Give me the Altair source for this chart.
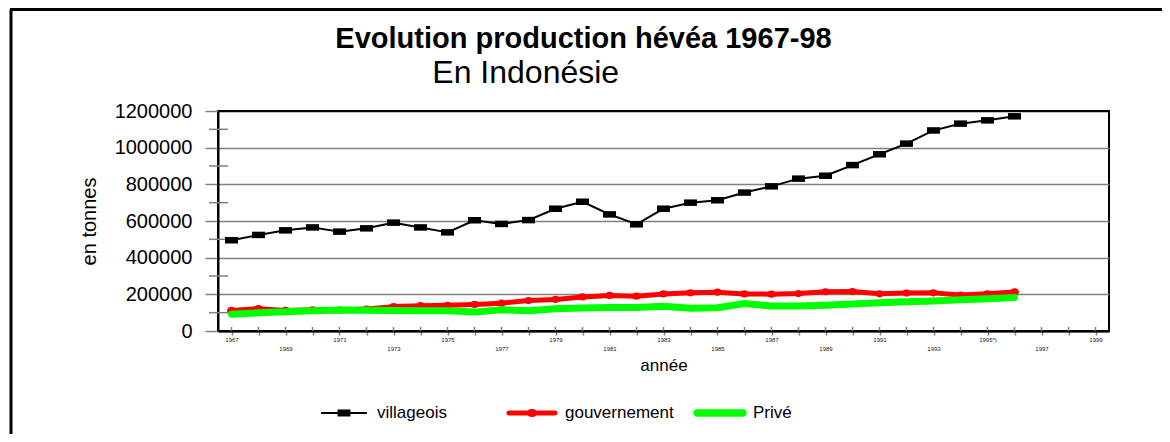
import altair as alt
import pandas as pd

# ---------------- data ----------------
years = list(range(1967, 1997))
villageois = [495000, 524000, 549000, 565000, 542000, 560000, 591000, 565000, 538000, 604000,
              584000, 605000, 667000, 705000, 636000, 582000, 667000, 700000, 713000, 755000,
              789000, 831000, 847000, 905000, 964000, 1022000, 1094000, 1131000, 1149000, 1171000]
gouvernement = [112000, 122000, 112000, 116000, 114000, 120000, 133000, 138000, 140000, 145000,
                152000, 166000, 172000, 186000, 194000, 190000, 202000, 208000, 212000, 202000,
                201000, 204000, 214000, 215000, 203000, 207000, 208000, 196000, 203000, 213000]
prive = [92000, 99000, 105000, 110000, 115000, 113000, 112000, 110000, 110000, 103000,
         116000, 110000, 121000, 126000, 128000, 128000, 135000, 124000, 127000, 150000,
         136000, 136000, 141000, 147000, 154000, 160000, 164000, 171000, 176000, 183000]

series_names = ["villageois", "gouvernement", "Privé"]
series_colors = ["#000000", "#ff0000", "#00ff00"]
year_ticks = list(range(1967, 2000))
y_major = [0, 200000, 400000, 600000, 800000, 1000000, 1200000]
y_minor = [100000, 300000, 500000, 700000, 900000, 1100000]

title_text = "Evolution production hévéa 1967-98"
subtitle_text = "En Indonésie"
x_title = "année"
y_title = "en tonnes"

# ---------------- styles ----------------
FONT = "Liberation Sans, Arial, sans-serif"
GRAY = "#808080"
line_widths = [2, 5, 7]

legend_paths = [
    "M-1,-0.045H1V0.045H-1Z M-0.28,-0.15H0.28V0.15H-0.28Z",
    "M-1,-0.11H1A0.11,0.11 0 0 1 1,0.11H-1A0.11,0.11 0 0 1 -1,-0.11Z "
    "M0.24,0A0.24,0.174 0 1 1 -0.24,0A0.24,0.174 0 1 1 0.24,0Z",
    "M-1,-0.16H1A0.16,0.16 0 0 1 1,0.16H-1A0.16,0.16 0 0 1 -1,-0.16Z",
]


def by_series(values):
    expr = "'" + values[-1] + "'"
    for n, v in reversed(list(zip(series_names[:-1], values[:-1]))):
        expr = "datum.value === '" + n + "' ? '" + v + "' : (" + expr + ")"
    return expr


rows = []
for name, vals in zip(series_names, [villageois, gouvernement, prive]):
    for yr, v in zip(years, vals):
        rows.append({"year": yr, "value": v, "series": name})
df = pd.DataFrame(rows)

label_expr = ("datum.value % 2 == 0 ? '' : (datum.value % 4 == 3 ? "
              "(datum.value == 1995 ? '1995*)' : '' + datum.value) : ['', '' + datum.value])")

x_enc = alt.X(
    "year:Q",
    scale=alt.Scale(domain=[1966.5, 1999.5], nice=False, zero=False),
    axis=alt.Axis(values=year_ticks, title=x_title, labelExpr=label_expr,
                  labelFontSize=6, labelFont=FONT, labelColor="#222222", labelPadding=1,
                  labelLineHeight=9, labelOverlap=False, labelFlush=False, labelBound=False,
                  tickColor=GRAY, tickSize=4, tickWidth=1.5,
                  domainColor="black", domainWidth=2, grid=False,
                  titleFont=FONT, titleFontSize=17, titleFontWeight="normal",
                  titleColor="black", titleY=34, titleBaseline="middle"),
)

y_enc = alt.Y(
    "value:Q",
    scale=alt.Scale(domain=[0, 1200000], nice=False, zero=True),
    axis=alt.Axis(values=y_major, format="d", title=y_title,
                  labelFont=FONT, labelFontSize=20, labelColor="black", labelPadding=13,
                  tickSize=13, tickColor=GRAY, tickWidth=1.5,
                  domainColor="black", domainWidth=2,
                  grid=True, gridWidth=1.5,
                  gridColor={"condition": {"test": "datum.value >= 1200000 || datum.value <= 0",
                                           "value": "black"}, "value": GRAY},
                  titleFont=FONT, titleFontSize=20, titleFontWeight="normal", titleColor="black",
                  titleAngle=270, titleX=-129, titleY=110, titleAlign="center",
                  titleBaseline="middle"),
)

color_scale = alt.Scale(domain=series_names, range=series_colors)
legend = alt.Legend(
    title=None, orient="none", legendX=103, legendY=279, direction="horizontal",
    columns=3, gridAlign="all", columnPadding=19,
    symbolSize=2116, symbolType=alt.ExprRef(expr=by_series(legend_paths)),
    symbolFillColor=alt.ExprRef(expr=by_series(series_colors)),
    symbolStrokeWidth=0, symbolOpacity=1,
    labelFont=FONT, labelFontSize=17, labelColor="black", labelOffset=10, labelLimit=300,
)

one = pd.DataFrame({"k": [0]})
frame_top = alt.Chart(one).mark_rule(color="black", strokeWidth=3).encode(
    x=alt.value(-208), x2=alt.value(944), y=alt.value(-101.5))
frame_left = alt.Chart(one).mark_rule(color="black", strokeWidth=3).encode(
    x=alt.value(-207), y=alt.value(-101.5), y2=alt.value(323))

minor = alt.Chart(pd.DataFrame({"value": y_minor})).mark_rule(color=GRAY, strokeWidth=1.5).encode(
    y=y_enc, x=alt.value(-9), x2=alt.value(10))
inner_x = alt.Chart(pd.DataFrame({"year": year_ticks})).mark_rule(color=GRAY, strokeWidth=1.5).encode(
    x=x_enc, y=alt.value(216), y2=alt.value(220))

layers = [frame_top, frame_left, minor, inner_x]
marker_paths = {"villageois": ("M-1,-0.5H1V0.5H-1Z", 169),
                "gouvernement": ("M1,0A1,0.8 0 1 1 -1,0A1,0.8 0 1 1 1,0Z", 81)}
for name, col, sw in zip(series_names, series_colors, line_widths):
    sub = alt.Chart(df).transform_filter(alt.datum.series == name)
    layers.append(sub.mark_line(strokeWidth=sw, strokeJoin="round", strokeCap="round").encode(
        x=x_enc, y=y_enc, color=alt.Color("series:N", scale=color_scale, legend=legend)))
    if name in marker_paths:
        path, size = marker_paths[name]
        layers.append(sub.mark_point(shape=path, size=size, filled=True, fill=col,
                                     strokeWidth=0, opacity=1).encode(x=x_enc, y=y_enc))

chart = alt.layer(*layers).properties(
    width=891, height=220,
    padding={"left": 210, "top": 103, "right": 53, "bottom": 103},
    autosize=alt.AutoSizeParams(type="none"),
    background="white",
    title=alt.TitleParams(
        text=title_text, subtitle=subtitle_text + "\u00a0" * 13 + "\u200b",
        anchor="middle", frame="group", dx=-80, dy=93, offset=12,
        font=FONT, fontSize=29, fontWeight="bold", color="black",
        subtitleFont=FONT, subtitleFontSize=32, subtitleColor="black", subtitlePadding=4),
).configure_view(stroke="black", strokeWidth=2)

chart.save("out.html", embed_options={"renderer": "svg", "actions": False})
